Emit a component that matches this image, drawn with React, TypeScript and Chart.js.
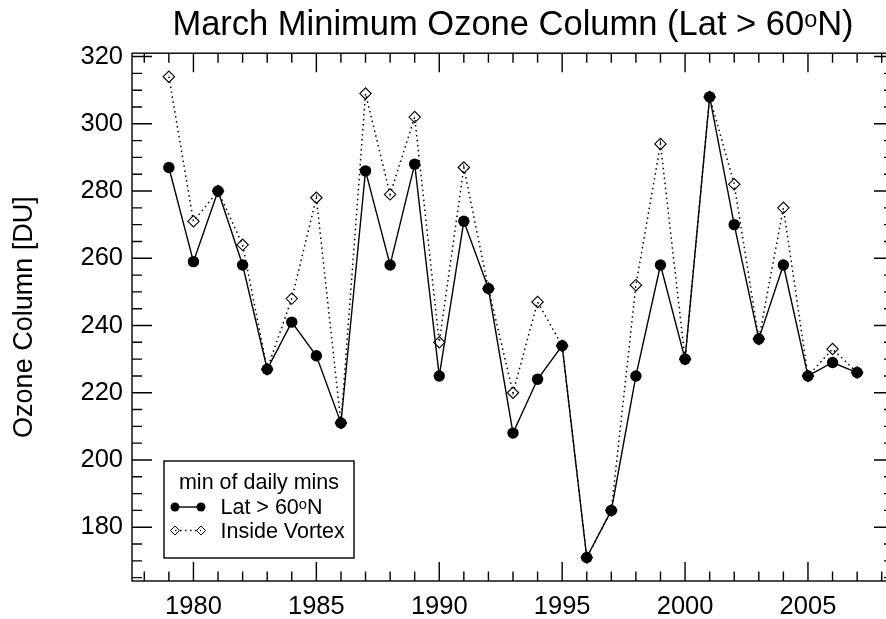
import React, { useEffect, useRef } from "react";
import { Chart, registerables } from "chart.js";

Chart.register(...registerables);

// ---- data ----
const years = [1979, 1980, 1981, 1982, 1983, 1984, 1985, 1986, 1987, 1988, 1989, 1990, 1991, 1992, 1993, 1994, 1995, 1996, 1997, 1998, 1999, 2000, 2001, 2002, 2003, 2004, 2005, 2006, 2007];
const lat60 = [287, 259, 280, 258, 227, 241, 231, 211, 286, 258, 288, 225, 271, 251, 208, 224, 234, 171, 185, 225, 258, 230, 308, 270, 236, 258, 225, 229, 226];
const insideVortex = [314, 271, 280, 264, 227, 248, 278, 211, 309, 279, 302, 235, 287, 251, 220, 247, 234, 171, 185, 252, 294, 230, 308, 282, 236, 275, 225, 233, 226];

const xTickLabels = [1980, 1985, 1990, 1995, 2000, 2005];
const yTickLabels = [180, 200, 220, 240, 260, 280, 300, 320];
const xRange = [1977.5, 2008.5];
const yRange = [164, 321];
const xMinorStep = 1;
const xMajorStep = 5;
const yMinorStep = 5;
const yMajorStep = 20;

const titleText = "March Minimum Ozone Column (Lat > 60\u1D52N)";
const yTitle = "Ozone Column [DU]";
const legendTitle = "min of daily mins";
const seriesNames = ["Lat > 60\u1D52N", "Inside Vortex"];

const FONT = '"Liberation Sans", Arial, Helvetica, sans-serif';

function drawMarker(ctx: CanvasRenderingContext2D, style: string, x: number, y: number, r: number) {
  ctx.beginPath();
  if (style === "circle") {
    ctx.arc(x, y, r, 0, Math.PI * 2);
    ctx.fillStyle = "#000";
    ctx.fill();
  } else {
    ctx.moveTo(x - r, y);
    ctx.lineTo(x, y - r);
    ctx.lineTo(x + r, y);
    ctx.lineTo(x, y + r);
    ctx.closePath();
    ctx.lineWidth = 1;
    ctx.strokeStyle = "#000";
    ctx.stroke();
  }
}

const framePlugin = {
  id: "idlFrame",
  beforeDatasetsDraw(chart: any) {
    const { ctx, chartArea: a, scales } = chart;
    const x = scales.x;
    const y = scales.y;
    ctx.save();
    ctx.strokeStyle = "#000";
    ctx.lineWidth = 1.4;
    ctx.strokeRect(a.left, a.top, a.right - a.left, a.bottom - a.top);
    ctx.beginPath();
    for (let v = Math.ceil(x.min / xMinorStep) * xMinorStep; v <= x.max; v += xMinorStep) {
      const px = x.getPixelForValue(v);
      const len = v % xMajorStep === 0 ? 19 : 9.5;
      ctx.moveTo(px, a.bottom);
      ctx.lineTo(px, a.bottom - len);
      ctx.moveTo(px, a.top);
      ctx.lineTo(px, a.top + len);
    }
    for (let v = Math.ceil(y.min / yMinorStep) * yMinorStep; v <= y.max; v += yMinorStep) {
      const py = y.getPixelForValue(v);
      const len = v % yMajorStep === 0 ? 20 : 10;
      ctx.moveTo(a.left, py);
      ctx.lineTo(a.left + len, py);
      ctx.moveTo(a.right, py);
      ctx.lineTo(a.right - len, py);
    }
    ctx.stroke();
    ctx.restore();
  },
};

const legendPlugin = {
  id: "boxLegend",
  afterDraw(chart: any) {
    const { ctx, chartArea: a } = chart;
    const w = 190;
    const h = 97;
    const left = a.left + 32;
    const top = a.bottom - 23 - h;
    ctx.save();
    ctx.fillStyle = "#fff";
    ctx.fillRect(left, top, w, h);
    ctx.lineWidth = 1.4;
    ctx.strokeStyle = "#000";
    ctx.strokeRect(left, top, w, h);
    ctx.font = `21.5px ${FONT}`;
    ctx.fillStyle = "#000";
    ctx.textAlign = "center";
    ctx.textBaseline = "alphabetic";
    ctx.fillText(legendTitle, left + w / 2, top + 28.3);
    chart.data.datasets.forEach((ds: any, i: number) => {
      const baseY = top + 53 + i * 23.5;
      const midY = baseY - 7;
      const x1 = left + 11;
      const x2 = left + 37;
      ctx.save();
      ctx.beginPath();
      ctx.setLineDash(ds.borderDash || []);
      ctx.lineWidth = ds.borderWidth;
      ctx.strokeStyle = "#000";
      ctx.moveTo(x1, midY);
      ctx.lineTo(x2, midY);
      ctx.stroke();
      ctx.restore();
      drawMarker(ctx, ds.pointStyle, x1, midY, 4.5);
      drawMarker(ctx, ds.pointStyle, x2, midY, 4.5);
      ctx.fillStyle = "#000";
      ctx.textAlign = "left";
      ctx.fillText(ds.label, left + 56.5, baseY);
    });
    ctx.restore();
  },
};

export default function App() {
  const canvasRef = useRef<HTMLCanvasElement | null>(null);

  useEffect(() => {
    const canvas = canvasRef.current;
    if (!canvas) return;
    const chart = new Chart(canvas, {
      type: "line",
      data: {
        datasets: [
          {
            label: seriesNames[0],
            data: years.map((yr, i) => ({ x: yr, y: lat60[i] })),
            borderColor: "#000",
            borderWidth: 1.4,
            pointStyle: "circle",
            pointRadius: 5.7,
            pointBackgroundColor: "#000",
            pointBorderColor: "#000",
            pointBorderWidth: 0,
            tension: 0,
          },
          {
            label: seriesNames[1],
            data: years.map((yr, i) => ({ x: yr, y: insideVortex[i] })),
            borderColor: "#000",
            borderWidth: 1.5,
            borderDash: [1.5, 3.5],
            pointStyle: "rectRot",
            pointRadius: 5.7,
            pointBackgroundColor: "rgba(0,0,0,0)",
            pointBorderColor: "#000",
            pointBorderWidth: 1.1,
            tension: 0,
          },
        ],
      },
      options: {
        responsive: false,
        animation: false,
        devicePixelRatio: 1,
        layout: { padding: { left: 0, right: 8, top: 0, bottom: 0 } },
        plugins: {
          legend: { display: false },
          tooltip: { enabled: false },
          title: {
            display: true,
            text: titleText,
            fullSize: false,
            color: "#000",
            font: { family: FONT, size: 34.5, weight: "normal" },
            padding: { top: 5, bottom: 6.8 },
          },
        },
        scales: {
          x: {
            type: "linear",
            min: xRange[0],
            max: xRange[1],
            grid: { display: false, drawTicks: false },
            border: { display: false },
            afterBuildTicks: (scale: any) => {
              scale.ticks = xTickLabels.map((v) => ({ value: v }));
            },
            afterFit: (scale: any) => {
              scale.height = 38;
            },
            ticks: {
              autoSkip: false,
              maxRotation: 0,
              color: "#000",
              padding: 11,
              font: { family: FONT, size: 25.5 },
              callback: (v: any) => String(v),
            },
          },
          y: {
            type: "linear",
            min: yRange[0],
            max: yRange[1],
            grid: { display: false, drawTicks: false },
            border: { display: false },
            afterBuildTicks: (scale: any) => {
              scale.ticks = yTickLabels.map((v) => ({ value: v }));
            },
            afterFit: (scale: any) => {
              scale.width = 132;
            },
            ticks: {
              autoSkip: false,
              color: "#000",
              padding: 9,
              font: { family: FONT, size: 25.5 },
              callback: (v: any) => String(v),
            },
            title: {
              display: true,
              text: yTitle,
              color: "#000",
              font: { family: FONT, size: 27 },
              padding: { top: 8, bottom: 0 },
            },
          },
        },
      },
      plugins: [framePlugin, legendPlugin],
    } as any);
    return () => chart.destroy();
  }, []);

  return (
    <div
      style={{
        position: "fixed",
        left: 0,
        top: 0,
        width: 886,
        height: 619,
        overflow: "hidden",
        background: "#fff",
      }}
    >
      <canvas ref={canvasRef} width={902} height={619} style={{ display: "block" }} />
    </div>
  );
}
